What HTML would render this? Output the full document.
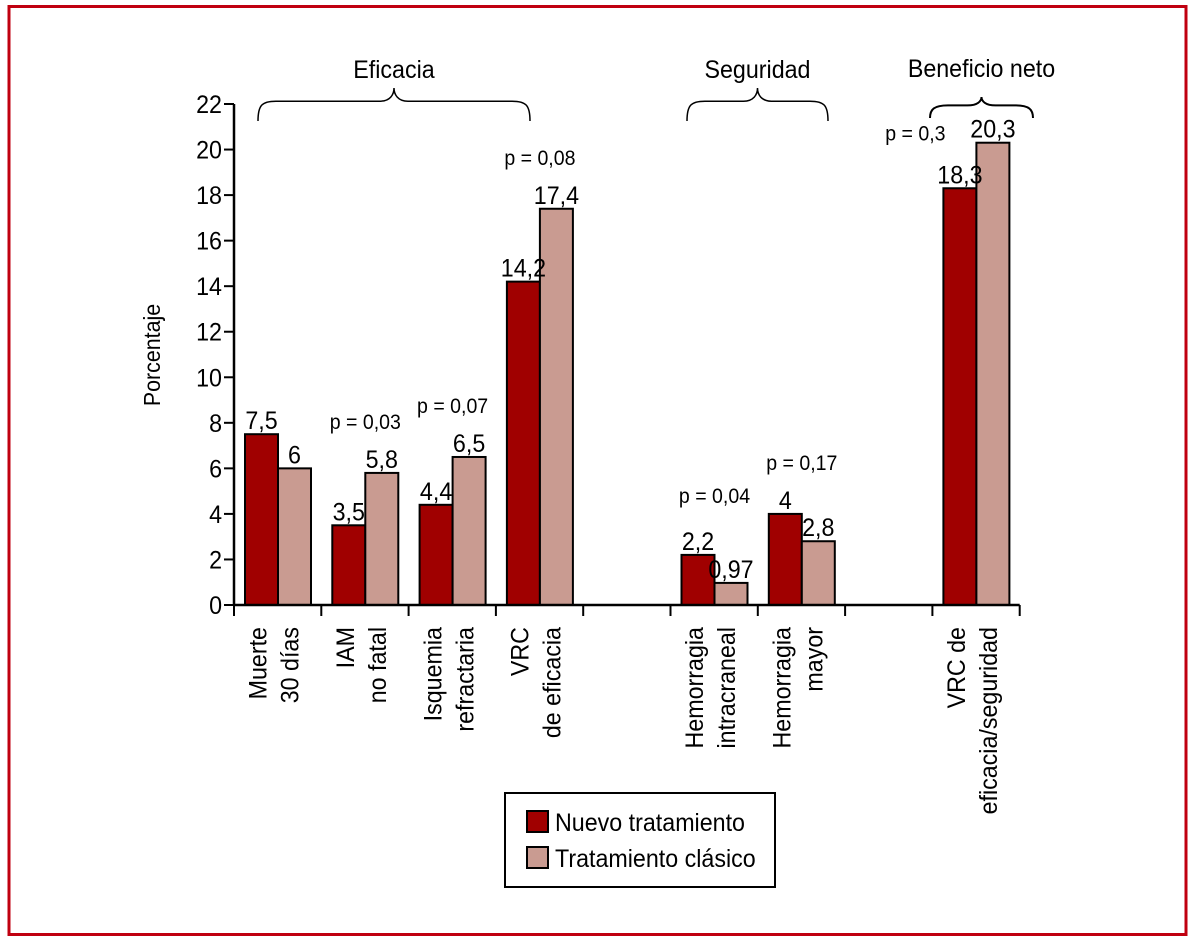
<!DOCTYPE html>
<html><head><meta charset="utf-8">
<style>
html,body{margin:0;padding:0;background:#fff;}
svg{display:block;font-family:"Liberation Sans Narrow","Liberation Sans",sans-serif;}
</style></head>
<body>
<svg id="chart" width="1194" height="942" xmlns="http://www.w3.org/2000/svg">
<rect x="9" y="6.5" width="1177" height="928" fill="none" stroke="#c00010" stroke-width="3"/>
<g id="plot"></g>
</svg>
<script>
const categories = [["Muerte","30 días"],["IAM","no fatal"],["Isquemia","refractaria"],["VRC","de eficacia"],null,["Hemorragia","intracraneal"],["Hemorragia","mayor"],null,["VRC de","eficacia/seguridad"]];
const nuevo = [7.5,3.5,4.4,14.2,null,2.2,4,null,18.3];
const clasico = [6,5.8,6.5,17.4,null,0.97,2.8,null,20.3];
const nuevoLabels = ["7,5","3,5","4,4","14,2",null,"2,2","4",null,"18,3"];
const clasicoLabels = ["6","5,8","6,5","17,4",null,"0,97","2,8",null,"20,3"];
const pLabels = [null,"p = 0,03","p = 0,07","p = 0,08",null,"p = 0,04","p = 0,17",null,"p = 0,3"];
const yTicks = [0,2,4,6,8,10,12,14,16,18,20,22];
const groups = ["Eficacia","Seguridad","Beneficio neto"];

const NS="http://www.w3.org/2000/svg";
const g=document.getElementById('plot');
const X0=234,Y0=605,slot=87.3,bw=33,pad=11,SQ=0.93;
const yS=v=>Y0-v*(501/22);
const xS=i=>X0+i*slot;
function el(tag,attrs,text){const e=document.createElementNS(NS,tag);for(const k in attrs)e.setAttribute(k,attrs[k]);if(text!=null)e.textContent=text;g.appendChild(e);
  if(tag==='text'){const L=e.getComputedTextLength();if(L>0){e.setAttribute('textLength',L*SQ);e.setAttribute('lengthAdjust','spacingAndGlyphs');}}
  return e;}

categories.forEach((c,i)=>{
  if(!c)return;
  const x=xS(i)+pad;
  const r1=el('rect',{x:x,y:yS(nuevo[i]),width:bw,height:Y0-yS(nuevo[i]),fill:'#a00000',stroke:'#000','stroke-width':2});
  
  
  const r2=el('rect',{x:x+bw,y:yS(clasico[i]),width:bw,height:Y0-yS(clasico[i]),fill:'#c99b91',stroke:'#000','stroke-width':2});
  
  
  const t1=el('text',{x:x+bw/2,y:yS(nuevo[i])-5,'font-size':25,'text-anchor':'middle'},nuevoLabels[i]);
  
  
  const t2=el('text',{x:x+bw*1.5,y:yS(clasico[i])-5,'font-size':25,'text-anchor':'middle'},clasicoLabels[i]);
  
  
  if(pLabels[i]){
    const m=Math.max(nuevo[i],clasico[i]);
    let px=x+bw, py=yS(m)-(i===5?52:44);
    if(i===8){px=x-28;py=yS(m)-2;}
    const p=el('text',{x:px,y:py,'font-size':21,'text-anchor':'middle'},pLabels[i]);
    
    
  }
  const cx=xS(i)+slot/2;
  c.forEach((line,j)=>{
    const lx=cx-11+j*32;
    const t=el('text',{x:lx,y:627,'font-size':25,'text-anchor':'end',transform:`rotate(-90 ${lx} 627)`},line);
    
    
  });
});

const ya=el('line',{x1:X0,y1:yS(22),x2:X0,y2:Y0,stroke:'#000','stroke-width':2.5});


const xa=el('line',{x1:X0,y1:Y0,x2:xS(9),y2:Y0,stroke:'#000','stroke-width':2.5});


yTicks.forEach(v=>{
  const t=el('line',{x1:X0-10,y1:yS(v),x2:X0,y2:yS(v),stroke:'#000','stroke-width':2});
  
  
  const l=el('text',{x:X0-12,y:yS(v)+9,'font-size':25,'text-anchor':'end'},String(v));
  
  
});
for(let i=0;i<=9;i++){
  const t=el('line',{x1:xS(i),y1:Y0,x2:xS(i),y2:Y0+11,stroke:'#000','stroke-width':2});
  
  
}
const yt=el('text',{x:160,y:355,'font-size':23,'text-anchor':'middle',transform:'rotate(-90 160 355)'},'Porcentaje');



const braceGeom=[[258,530,88,121,78],[687,828,88,121,78],[930,1033,97,118,77]];
groups.forEach((name,k)=>{
  const [x1,x2,top,bot,ty]=braceGeom[k];
  const mid=(x1+x2)/2,h=bot-top,ym=top+h*0.4;
  const d=`M${x1},${bot} C${x1},${ym+4} ${x1+4},${ym} ${x1+18},${ym} L${mid-14},${ym} C${mid-4},${ym} ${mid},${top+h*0.2} ${mid},${top} C${mid},${top+h*0.2} ${mid+4},${ym} ${mid+14},${ym} L${x2-18},${ym} C${x2-4},${ym} ${x2},${ym+4} ${x2},${bot}`;
  const p=el('path',{d:d,fill:'none',stroke:'#000','stroke-width':k===2?2:1.5});
  
  
  const t=el('text',{x:mid,y:ty,'font-size':25,'text-anchor':'middle'},name);
  
  
});

const lb=el('rect',{x:505,y:793,width:270,height:94,fill:'#fff',stroke:'#000','stroke-width':2});


[['#a00000','Nuevo tratamiento',811],['#c99b91','Tratamiento clásico',847]].forEach(([c,txt,y])=>{
  const s=el('rect',{x:527,y:y,width:21,height:21,fill:c,stroke:'#000','stroke-width':2});
  
  
  const t=el('text',{x:555,y:y+20,'font-size':25},txt);
  
  
});
</script>
</body></html>
